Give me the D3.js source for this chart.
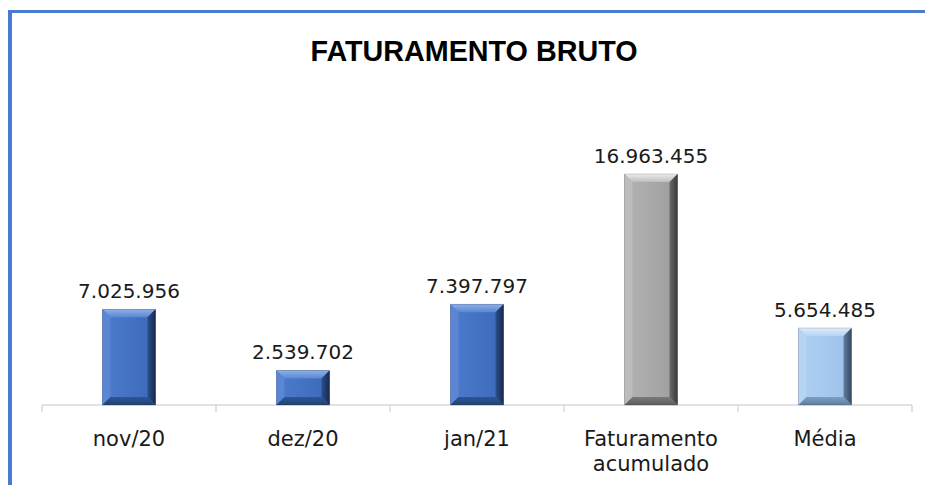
<!DOCTYPE html>
<html>
<head>
<meta charset="utf-8">
<script src="https://cdn.jsdelivr.net/npm/d3@7"></script>
<style>
  html, body { margin: 0; padding: 0; background: #ffffff; }
  svg { display: block; }
</style>
</head>
<body>
<svg id="chart" width="925" height="485"></svg>
<script>
const title = "FATURAMENTO BRUTO";
const categories = ["nov/20", "dez/20", "jan/21", "Faturamento acumulado", "Média"];
const values = [7025956, 2539702, 7397797, 16963455, 5654485];
const labels = ["7.025.956", "2.539.702", "7.397.797", "16.963.455", "5.654.485"];
const barKinds = ["blue", "blue", "blue", "gray", "light"];

const palette = {
  blue:  { face: "#4472c4", faceL: "#4d7bcc", faceR: "#3d68b8", top: ["#5a86d2", "#8db1ea"], left: "#5a86d4", right: ["#2c4f8c", "#16294d"], bottom: ["#2f5597", "#23426f"] },
  gray:  { face: "#a9a9a9", faceL: "#b3b3b3", faceR: "#9d9d9d", top: ["#bdbdbd", "#ececec"], left: "#bcbcbc", right: ["#6a6a6a", "#3a3a3a"], bottom: ["#7a7a7a", "#5c5c5c"] },
  light: { face: "#a6c9ef", faceL: "#b0d0f2", faceR: "#9cc0e8", top: ["#b6d3f3", "#dcebfb"], left: "#b6d4f4", right: ["#5f7d9e", "#34495f"], bottom: ["#7f9fc2", "#5f7d9e"] }
};

const svg = d3.select("#chart");
const W = 925, H = 485;
const defs = svg.append("defs");
Object.entries(palette).forEach(([k, col]) => {
  const mk = (id, x2, y2, stops) => {
    const g = defs.append("linearGradient").attr("id", id).attr("x1", 0).attr("y1", 0).attr("x2", x2).attr("y2", y2);
    stops.forEach((s, i) => g.append("stop").attr("offset", i / (stops.length - 1)).attr("stop-color", s));
  };
  mk(k + "-face", 1, 0, [col.faceL, col.face, col.faceR]);
  mk(k + "-top", 0, 1, col.top.slice().reverse());
  mk(k + "-right", 1, 0, col.right);
  mk(k + "-bottom", 0, 1, col.bottom);
});

// frame (blue border top & left)
svg.append("rect").attr("x", 8).attr("y", 10).attr("width", 4).attr("height", H - 10).attr("fill", "#4a7bd0");
svg.append("rect").attr("x", 8).attr("y", 10).attr("width", W - 8).attr("height", 3).attr("fill", "#4a7bd0");

// title
svg.append("text")
  .attr("x", 474).attr("y", 61)
  .attr("text-anchor", "middle")
  .attr("font-family", "Liberation Sans, Arial, sans-serif")
  .attr("font-weight", "bold")
  .attr("font-size", 30)
  .attr("fill", "#000")
  .attr("textLength", 327)
  .attr("lengthAdjust", "spacingAndGlyphs")
  .text(title);

const x0 = 42, x1 = 912, base = 405;
const x = d3.scaleBand().domain(categories).range([x0, x1]).paddingInner(0.695).paddingOuter(0.3475);
const y = d3.scaleLinear().domain([0, 20000000]).range([base, base - 231 * 20000000 / 16963455]);

// axis
const axisG = svg.append("g").attr("transform", `translate(0,${base})`);
axisG.append("line").attr("x1", x0).attr("x2", x1).attr("y1", 0).attr("y2", 0)
  .attr("stroke", "#d9d9d9").attr("stroke-width", 1.5);
const step = x.step();
const bounds = d3.range(categories.length + 1).map(i => x0 + i * step);
axisG.selectAll("line.tick").data(bounds).enter().append("line")
  .attr("class", "tick")
  .attr("x1", d => d).attr("x2", d => d).attr("y1", 0).attr("y2", 7)
  .attr("stroke", "#d9d9d9").attr("stroke-width", 1.5);

// bars with bevel
const bars = svg.append("g");
categories.forEach((c, i) => {
  const bx = x(c), bw = x.bandwidth();
  const by = y(values[i]), bh = base - by;
  const k = barKinds[i], col = palette[k];
  const b = Math.min(8, bh / 3, bw / 4);
  const g = bars.append("g");
  g.append("rect").attr("x", bx).attr("y", by).attr("width", bw).attr("height", bh).attr("fill", `url(#${k}-face)`);
  const L = bx, R = bx + bw, T = by, B = base;
  const poly = (pts, fill) => g.append("polygon").attr("points", pts.map(p => p.join(",")).join(" ")).attr("fill", fill);
  poly([[L, T], [R, T], [R - b, T + b], [L + b, T + b]], `url(#${k}-top)`);
  poly([[L, T], [L + b, T + b], [L + b, B - b], [L, B]], col.left);
  poly([[R, T], [R, B], [R - b, B - b], [R - b, T + b]], `url(#${k}-right)`);
  poly([[L, B], [L + b, B - b], [R - b, B - b], [R, B]], `url(#${k}-bottom)`);
  g.append("rect").attr("x", bx).attr("y", by).attr("width", bw).attr("height", bh)
    .attr("fill", "none").attr("stroke", "rgba(0,0,0,0.2)").attr("stroke-width", 0.8);
});

// value labels
svg.append("g").selectAll("text").data(categories).enter().append("text")
  .attr("x", d => x(d) + x.bandwidth() / 2)
  .attr("y", (d, i) => y(values[i]) - 11)
  .attr("text-anchor", "middle")
  .attr("font-family", "DejaVu Sans, sans-serif")
  .attr("font-size", 20)
  .attr("fill", "#1a1a1a")
  .text((d, i) => labels[i]);

// category labels
const catG = svg.append("g");
categories.forEach(c => {
  const cx = x(c) + x.bandwidth() / 2;
  const words = c === "Faturamento acumulado" ? ["Faturamento", "acumulado"] : [c];
  words.forEach((w, j) => {
    catG.append("text")
      .attr("x", cx).attr("y", 446 + j * 25)
      .attr("text-anchor", "middle")
      .attr("font-family", "DejaVu Sans, sans-serif")
      .attr("font-size", 21)
      .attr("fill", "#1a1a1a")
      .text(w);
  });
});
</script>
</body>
</html>
